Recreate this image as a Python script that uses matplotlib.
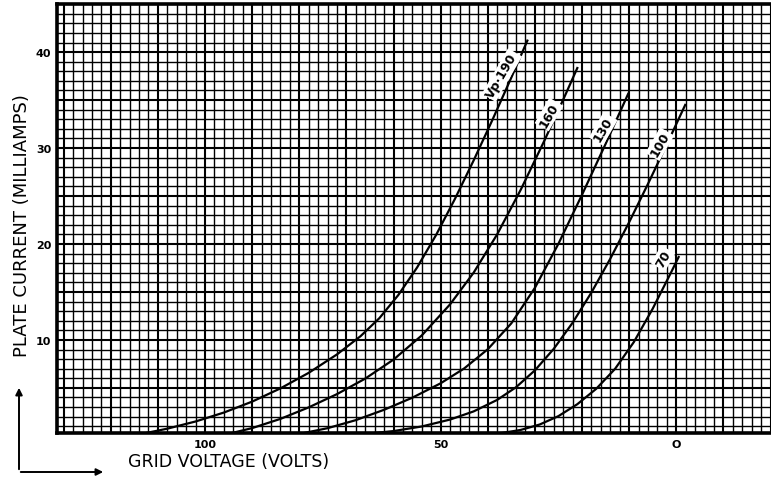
import numpy as np
import matplotlib
matplotlib.use("Agg")
import matplotlib.pyplot as plt
from matplotlib.ticker import FixedLocator

# plate current curves: grid voltage (volts, negative bias) vs plate current (mA)
vp190_x = [113.5, 108, 102, 96, 90, 84, 78, 72, 67, 63, 59, 55, 51, 47, 43, 39, 35, 31.6]
vp190_y = [0.2, 0.75, 1.5, 2.43, 3.57, 4.95, 6.57, 8.49, 10.39, 12.27, 14.67, 17.55,
           20.91, 24.67, 28.71, 32.95, 37.35, 41.2]

vp160_x = [95.1, 90, 84, 78, 72, 66, 60, 54, 48, 43, 38, 33, 28, 24, 21]
vp160_y = [0.2, 0.81, 1.77, 2.97, 4.35, 5.97, 7.95, 10.47, 13.71, 17.01, 21.01, 25.66,
           30.76, 35.04, 38.34]

vp130_x = [80, 74, 68, 62, 56, 50, 45, 40, 35, 30, 25, 20, 15, 10.2]
vp130_y = [0.2, 0.8, 1.64, 2.72, 3.98, 5.48, 7.03, 9.03, 11.73, 15.43, 20.03, 25.13,
           30.43, 35.66]

vp100_x = [66, 60, 54, 48, 43, 38, 34, 30, 26, 22, 18, 14, 10, 6, 2, -1.9]
vp100_y = [0.2, 0.5, 0.98, 1.7, 2.55, 3.75, 5.07, 6.83, 9.07, 11.79, 14.95, 18.47,
           22.27, 26.27, 30.39, 34.5]

vp70_x = [42, 37, 33, 29, 25, 21, 17, 13, 9, 5, 1, -0.5]
vp70_y = [0.1, 0.3, 0.62, 1.18, 2.06, 3.3, 4.9, 6.98, 9.78, 13.26, 17.14, 18.64]

curves = [(vp190_x, vp190_y), (vp160_x, vp160_y), (vp130_x, vp130_y),
          (vp100_x, vp100_y), (vp70_x, vp70_y)]
curve_labels = ["Vp·190", "160", "130", "100", "70"]
# label anchor points (grid volts, mA)
label_x = [37.0, 27.0, 15.5, 3.5, 2.8]
label_y = [37.6, 33.5, 32.0, 30.4, 18.5]

x_ticks = [100, 50, 0]
x_ticklabels = ["100", "50", "O"]
y_ticks = [10, 20, 30, 40]
y_ticklabels = ["10", "20", "30", "40"]

fig = plt.figure(figsize=(7.71, 4.89), dpi=100)
ax = fig.add_axes([0.074, 0.1125, 0.926, 0.877])

ax.set_xlim(131.4, -20.1)
ax.set_ylim(0.3, 45.0)
ax.xaxis.set_major_locator(FixedLocator(x_ticks))
ax.yaxis.set_major_locator(FixedLocator(y_ticks))

# graph-paper grid: 2 V and 1 mA squares, heavier every 10 V / 5 mA
for v in np.arange(-20, 132, 2):
    lw = 1.5 if v % 10 == 0 else 1.0
    ax.axvline(v, color="black", lw=lw, zorder=1)
for v in np.arange(1, 46, 1):
    lw = 1.5 if v % 5 == 0 else 1.0
    ax.axhline(v, color="black", lw=lw, zorder=1)

for (xs, ys) in curves:
    ax.plot(xs, ys, color="black", lw=1.6, zorder=3, solid_joinstyle="round")

for txt, lx, ly in zip(curve_labels, label_x, label_y):
    ax.text(lx, ly, txt, rotation=60, fontsize=9, fontweight="bold",
            ha="center", va="center", zorder=4,
            bbox=dict(fc="white", ec="none", pad=1.2))

ax.set_xticklabels(x_ticklabels, fontsize=8, fontweight="bold")
ax.set_yticklabels(y_ticklabels, fontsize=8, fontweight="bold")
ax.tick_params(length=0, pad=4)

for side in ["left", "bottom", "top"]:
    ax.spines[side].set_linewidth(2.6)
ax.spines["right"].set_visible(False)

fig.text(0.028, 0.538, "PLATE CURRENT (MILLIAMPS)", rotation=90,
         ha="center", va="center", fontsize=13)
fig.text(0.166, 0.055, "GRID VOLTAGE (VOLTS)", ha="left", va="center",
         fontsize=12.5)

# L-shaped direction arrows in the corner
fig.patches.append(matplotlib.patches.FancyArrowPatch(
    (19 / 771, 1 - 473 / 489), (19 / 771, 1 - 386 / 489),
    transform=fig.transFigure, arrowstyle="-|>", mutation_scale=10,
    color="black", lw=1.4))
fig.patches.append(matplotlib.patches.FancyArrowPatch(
    (18 / 771, 1 - 473 / 489), (106 / 771, 1 - 473 / 489),
    transform=fig.transFigure, arrowstyle="-|>", mutation_scale=10,
    color="black", lw=1.4))

fig.savefig("out.png", dpi=100)
